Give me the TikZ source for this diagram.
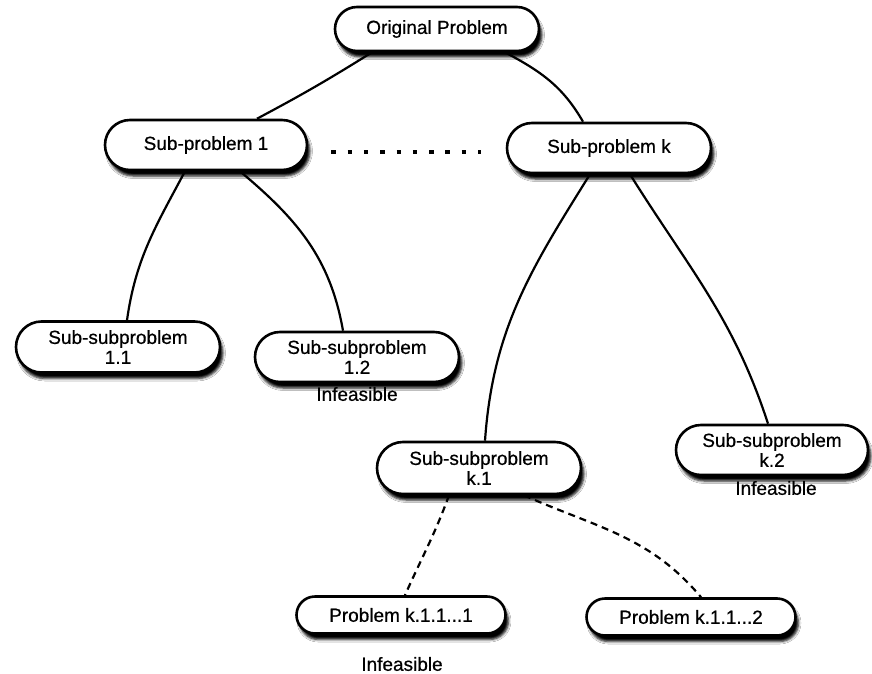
\documentclass[tikz,border=0pt]{standalone}
\usepackage{fontspec}
\setmainfont{Liberation Sans}[FakeBold=0.6]
\usetikzlibrary{shapes.misc,shadows.blur}
\begin{document}
\begin{tikzpicture}[x=1pt,y=-1pt,
  box/.style={rounded rectangle, draw, line width=2.6pt, fill=white,
    minimum width=208pt, minimum height=50pt, inner sep=2pt, align=center,
    font=\fontsize{19}{20}\selectfont,
    blur shadow={shadow xshift=3pt, shadow yshift=-6pt, shadow blur radius=2.5pt, shadow opacity=100}},
  lbl/.style={font=\fontsize{19}{20}\selectfont, inner sep=0pt},
  conn/.style={line width=2.2pt},
  dconn/.style={line width=2.2pt, dash pattern=on 7pt off 5pt},
  dots/.style={line width=4.5pt, dash pattern=on 4.5pt off 11.8pt}]
\useasboundingbox[fill=white] (0,0) rectangle (872,674);

\node[box, minimum width=208pt, minimum height=44pt] (orig) at (437,29) {Original Problem};
\node[box, minimum width=206pt] (s1) at (206,145) {Sub-problem 1};
\node[box] (sk) at (609,148) {Sub-problem k};
\node[box, minimum height=51pt] (s11) at (118,347) {Sub-subproblem\\1.1};
\node[box] (s12) at (357,357) {Sub-subproblem\\1.2};
\node[box, minimum height=52pt] (k1) at (479,468) {Sub-subproblem\\k.1};
\node[box, minimum width=196pt] (k2) at (772,450) {Sub-subproblem\\k.2};
\node[box, minimum width=213pt, minimum height=37pt] (p1) at (401,615) {Problem k.1.1...1};
\node[box, minimum width=213pt, minimum height=37pt] (p2) at (691,617) {Problem k.1.1...2};

\node[lbl] (inf1) at (357,394) {Infeasible};
\node[lbl] (inf2) at (776,488) {Infeasible};
\node[lbl] (inf3) at (402,664) {Infeasible};

\coordinate (d1) at ([xshift=23pt,yshift=-7pt]s1.east);
\coordinate (d2) at (d1 -| sk.west);
\draw[dots, shorten >=25pt] (d1) -- (d2);

\draw[conn] ([xshift=-65pt]orig.south) to[out=-148,in=28] ([xshift=51pt]s1.north);
\draw[conn] ([xshift=68pt]orig.south) to[out=-28,in=120] ([xshift=-26pt]sk.north);
\draw[conn] ([xshift=-21pt]s1.south) to[out=-118,in=82] ([xshift=9pt]s11.north);
\draw[conn] ([xshift=34pt]s1.south) to[out=-40,in=100] ([xshift=-14pt]s12.north);
\draw[conn] ([xshift=-19pt]sk.south) to[out=-122,in=86] ([xshift=6pt]k1.north);
\draw[conn] ([xshift=21pt]sk.south) to[out=-58,in=108] ([xshift=-4pt]k2.north);
\draw[dconn] ([xshift=-30pt]k1.south) to[out=-110,in=66] ([xshift=4pt]p1.north);
\draw[dconn] ([xshift=45pt]k1.south) to[out=-24,in=130] ([xshift=10pt]p2.north);
\end{tikzpicture}
\end{document}
